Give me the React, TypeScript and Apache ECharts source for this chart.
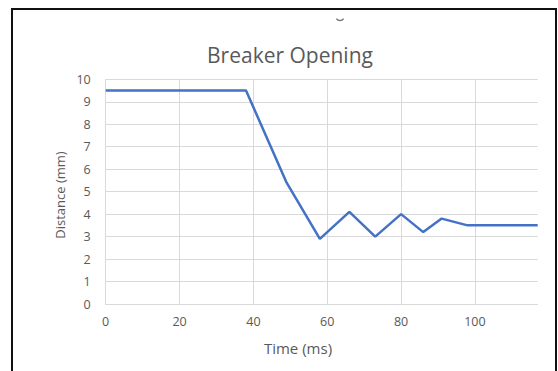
import React, { useEffect, useRef } from "react";
import * as echarts from "echarts";

// Contact travel of the breaker during opening
const timeMs: number[] = [0, 38, 49, 58, 66, 73, 80, 86, 91, 98, 117];
const distanceMm: number[] = [9.5, 9.5, 5.4, 2.9, 4.1, 3.0, 4.0, 3.2, 3.8, 3.5, 3.5];

const chartTitle = "Breaker Opening";
const xAxisTitle = "Time (ms)";
const yAxisTitle = "Distance (mm)";

const FONT = "'Open Sans', Lato, 'DejaVu Sans', sans-serif";
const TEXT_GREY = "#595959";
const GRID_GREY = "#d9d9d9";

export default function App() {
  const ref = useRef<HTMLDivElement>(null);

  useEffect(() => {
    if (!ref.current) return;
    const chart = echarts.init(ref.current, undefined, { renderer: "svg" });
    const points = timeMs.map((t, i) => [t, distanceMm[i]]);

    chart.setOption({
      animation: false,
      backgroundColor: "#ffffff",
      grid: {
        left: 105.7,
        right: 20.3,
        top: 79.3,
        bottom: 67,
        containLabel: false,
        outerBoundsMode: "none",
      },
      xAxis: {
        type: "value",
        min: 0,
        max: 117,
        interval: 20,
        axisLine: { show: true, lineStyle: { color: GRID_GREY, width: 1 } },
        axisTick: { show: false },
        axisLabel: {
          color: TEXT_GREY,
          fontFamily: FONT,
          fontSize: 12.5,
          margin: 11,
          showMaxLabel: false,
        },
        splitLine: {
          show: true,
          showMaxLine: false,
          lineStyle: { color: GRID_GREY, width: 1 },
        },
      },
      yAxis: {
        type: "value",
        min: 0,
        max: 10,
        interval: 1,
        axisLine: { show: false },
        axisTick: { show: false },
        axisLabel: {
          color: TEXT_GREY,
          fontFamily: FONT,
          fontSize: 12.5,
          margin: 15,
        },
        splitLine: { show: true, lineStyle: { color: GRID_GREY, width: 1 } },
      },
      series: [
        {
          type: "line",
          data: points,
          showSymbol: false,
          symbol: "none",
          lineStyle: { color: "#4472C4", width: 2.5 },
        },
      ],
      graphic: [
        {
          type: "rect",
          silent: true,
          shape: { x: 12, y: 9, width: 544, height: 380 },
          style: { fill: "none", stroke: "#111111", lineWidth: 2 },
        },
        {
          type: "arc",
          silent: true,
          shape: { cx: 340, cy: 16, r: 4.5, startAngle: Math.PI * 0.2, endAngle: Math.PI * 0.8 },
          style: { stroke: "#7a7a7a", lineWidth: 1.6, fill: "none" },
        },
        {
          type: "text",
          silent: true,
          x: 290,
          y: 55,
          style: {
            text: chartTitle,
            fill: TEXT_GREY,
            font: `21px ${FONT}`,
            align: "center",
            verticalAlign: "middle",
          },
        },
        {
          type: "text",
          silent: true,
          x: 298,
          y: 348,
          style: {
            text: xAxisTitle,
            fill: TEXT_GREY,
            font: `15px ${FONT}`,
            align: "center",
            verticalAlign: "middle",
          },
        },
        {
          type: "text",
          silent: true,
          x: 60,
          y: 195,
          rotation: Math.PI / 2,
          style: {
            text: yAxisTitle,
            fill: TEXT_GREY,
            font: `13px ${FONT}`,
            align: "center",
            verticalAlign: "middle",
          },
        },
      ],
    });

    return () => chart.dispose();
  }, []);

  return (
    <div
      ref={ref}
      style={{ position: "absolute", left: 0, top: 0, width: 558, height: 371 }}
    />
  );
}
